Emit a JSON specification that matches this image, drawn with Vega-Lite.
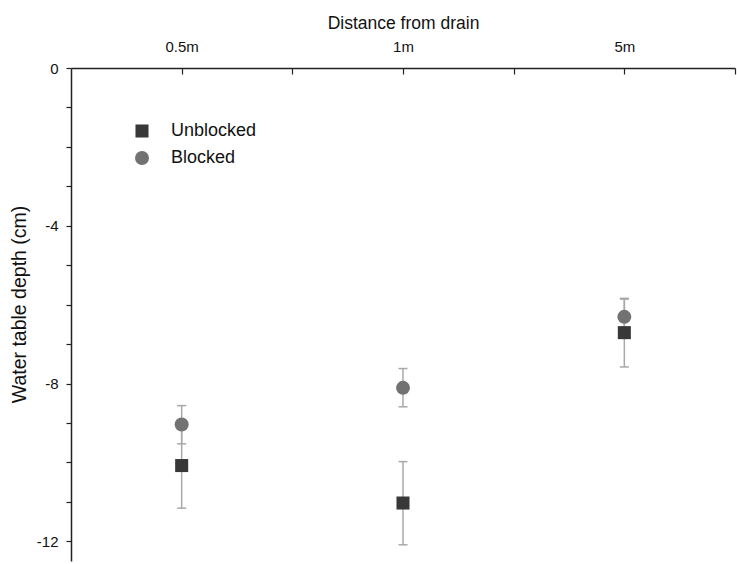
{
  "$schema": "https://vega.github.io/schema/vega-lite/v6.json",
  "width": 664,
  "height": 493,
  "autosize": {"type": "none"},
  "padding": {"left": 71, "top": 68, "right": 2, "bottom": 3},
  "background": "white",
  "config": {
    "view": {"stroke": null},
    "font": "Liberation Sans",
    "axisY": {
      "values": [0, -2, -4, -6, -8, -10, -12],
      "labelExpr": "datum.value % 4 == 0 ? toString(datum.value) : ''",
      "grid": false,
      "domainColor": "#222222",
      "domainWidth": 1.5,
      "tickColor": "#222222",
      "tickWidth": 1.2,
      "tickSize": 5,
      "labelFontSize": 15,
      "labelColor": "#111111",
      "labelPadding": 8,
      "titleFontSize": 19.5,
      "titleFontWeight": "normal",
      "titleColor": "#111111",
      "titlePadding": 7,
      "titleY": 236
    }
  },
  "data": {
    "values": [
      {"pos": 1, "group": "Unblocked", "mean": -10.08, "lo": -11.16, "hi": -9.0},
      {"pos": 2, "group": "Unblocked", "mean": -11.03, "lo": -12.09, "hi": -9.98},
      {"pos": 3, "group": "Unblocked", "mean": -6.71, "lo": -7.58, "hi": -5.84},
      {"pos": 1, "group": "Blocked", "mean": -9.04, "lo": -9.53, "hi": -8.56},
      {"pos": 2, "group": "Blocked", "mean": -8.11, "lo": -8.59, "hi": -7.62},
      {"pos": 3, "group": "Blocked", "mean": -6.31, "lo": -6.76, "hi": -5.86}
    ]
  },
  "encoding": {
    "x": {
      "field": "pos",
      "type": "quantitative",
      "scale": {"domain": [0.5, 3.5], "nice": false, "zero": false},
      "axis": {
        "orient": "top",
        "title": "Distance from drain",
        "values": [1, 1.5, 2, 2.5, 3, 3.5],
        "labelExpr": "datum.value == 1 ? '0.5m' : datum.value == 2 ? '1m' : datum.value == 3 ? '5m' : ''",
        "grid": false,
        "domainColor": "#222222",
        "domainWidth": 1.5,
        "tickColor": "#222222",
        "tickWidth": 1.2,
        "tickSize": -6,
        "labelFontSize": 15,
        "labelColor": "#111111",
        "labelPadding": 20,
        "labelFlush": false,
        "titleFontSize": 17.5,
        "titleFontWeight": "normal",
        "titleColor": "#111111",
        "titlePadding": 7
      }
    }
  },
  "layer": [
    {
      "mark": {"type": "rule", "color": "#a8a8a8", "strokeWidth": 1.5},
      "encoding": {
        "y": {"field": "lo", "type": "quantitative", "scale": {"domain": [-12.5, 0], "nice": false, "zero": false}, "axis": {"title": "Water table depth (cm)"}},
        "y2": {"field": "hi"}
      }
    },
    {
      "mark": {"type": "tick", "orient": "horizontal", "size": 9, "thickness": 1.5, "color": "#a8a8a8", "opacity": 1},
      "encoding": {
        "y": {"field": "lo", "type": "quantitative", "scale": {"domain": [-12.5, 0], "nice": false, "zero": false}, "axis": {"title": "Water table depth (cm)"}}
      }
    },
    {
      "mark": {"type": "tick", "orient": "horizontal", "size": 9, "thickness": 1.5, "color": "#a8a8a8", "opacity": 1},
      "encoding": {
        "y": {"field": "hi", "type": "quantitative", "scale": {"domain": [-12.5, 0], "nice": false, "zero": false}, "axis": {"title": "Water table depth (cm)"}}
      }
    },
    {
      "mark": {"type": "point", "filled": true, "opacity": 1, "strokeWidth": 0},
      "encoding": {
        "y": {"field": "mean", "type": "quantitative", "scale": {"domain": [-12.5, 0], "nice": false, "zero": false}, "axis": {"title": "Water table depth (cm)"}},
        "color": {
          "field": "group",
          "type": "nominal",
          "scale": {"domain": ["Unblocked", "Blocked"], "range": ["#383838", "#727272"]},
          "legend": {
            "orient": "none",
            "legendX": 62,
            "legendY": 54,
            "title": null,
            "symbolSize": 121,
            "labelFontSize": 18,
            "labelColor": "#111111",
            "labelOffset": 20,
            "rowPadding": 9,
            "padding": 0,
            "symbolStrokeWidth": 0
          }
        },
        "shape": {
          "field": "group",
          "type": "nominal",
          "scale": {"domain": ["Unblocked", "Blocked"], "range": ["square", "circle"]}
        },
        "size": {
          "field": "group",
          "type": "nominal",
          "scale": {"domain": ["Unblocked", "Blocked"], "range": [170, 196]},
          "legend": null
        }
      }
    }
  ]
}
